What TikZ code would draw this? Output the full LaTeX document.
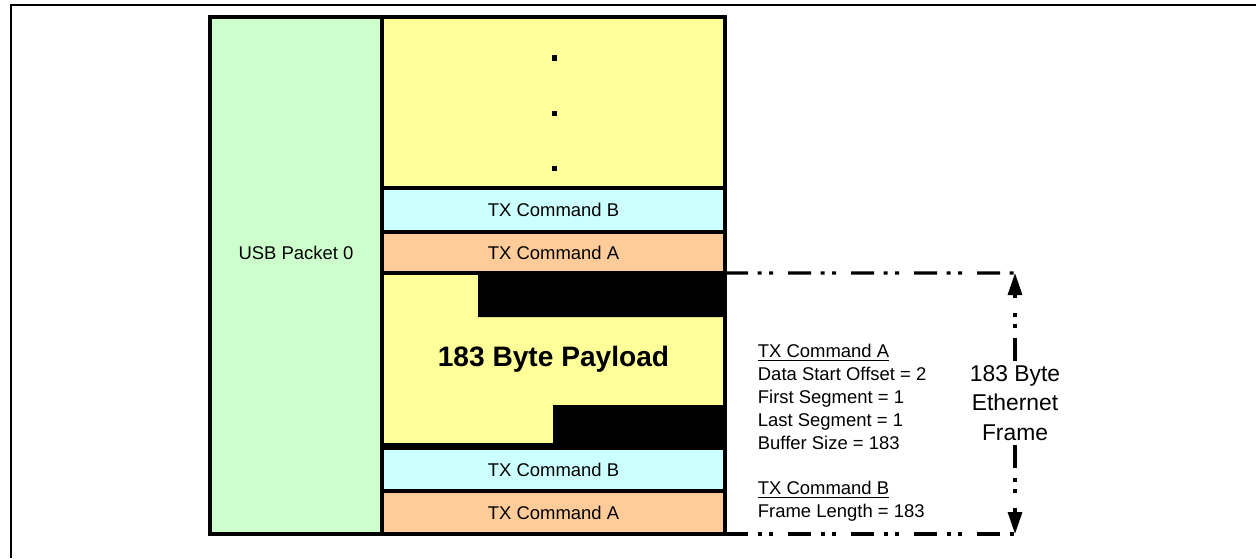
\documentclass[tikz,border=0pt]{standalone}
\usepackage{fontspec}
\setmainfont{Liberation Sans}
\usetikzlibrary{arrows.meta}
\definecolor{usbgreen}{HTML}{CCFFCC}
\definecolor{payloadyellow}{HTML}{FFFF99}
\definecolor{cmdbcyan}{HTML}{CCFFFF}
\definecolor{cmdaorange}{HTML}{FFCC99}
\tikzset{every picture/.style={font issue=\fontsize{10.5pt}{13pt}},
         font issue/.style={execute at begin picture={#1\selectfont}},
         block/.style={draw, line width=1.8pt, inner sep=0pt, outer sep=0pt, minimum width=6.86cm, anchor=south west},
         frame line/.style={line width=1.8pt, dash pattern=on 0.46cm off 0.19cm on 0.08cm off 0.15cm on 0.08cm off 0.3cm},
         frame tip/.style={-{Triangle[length=0.44cm, width=0.28cm]}}
}
\begin{document}
\begin{tikzpicture}[ultra thick]
        \useasboundingbox (0cm, 0cm) rectangle (25.12cm, 11.16cm);
        \draw [line width=1.1pt] (0.22cm, 0cm) |- (25.12cm, 11.06cm);
        \node [block, fill=usbgreen, minimum width=3.44cm, minimum height=10.34cm] (usb) at (4.2cm, 0.48cm) {};
        \node (usblabel) at (5.92cm, 6.1cm) {USB Packet 0};
        \node [block, fill=payloadyellow, minimum height=3.42cm] (more) at (7.64cm, 7.4cm) {};
        \foreach \y in {9.95, 8.85, 7.75}
          \fill (11.03cm, \y cm) rectangle +(0.1cm, 0.1cm);
        \node [block, fill=cmdbcyan, minimum height=0.88cm] (cmdbtop) at (7.64cm, 6.52cm) {TX Command B};
        \node [block, fill=cmdaorange, minimum height=0.82cm] (cmdatop) at (7.64cm, 5.7cm) {TX Command A};
        \node [block, fill=payloadyellow, minimum height=3.44cm, font=\fontsize{16pt}{19pt}\selectfont\bfseries] (payload) at (7.64cm, 2.26cm) {183 Byte Payload};
        \fill (payload.north east) rectangle (9.56cm, 4.82cm) (11.06cm, 3.06cm) rectangle (14.5cm, 2.2cm);
        \node [block, fill=cmdbcyan, minimum height=0.86cm] (cmdbbot) at (7.64cm, 1.34cm) {TX Command B};
        \node [block, fill=cmdaorange, minimum height=0.86cm] (cmdabot) at (7.64cm, 0.48cm) {TX Command A};
        \coordinate (frametop) at (20.3cm, 5.7cm);
        \coordinate (framebot) at (20.3cm, 0.48cm);
        \draw [frame line] (payload.north east) -- (frametop);
        \draw [frame line] (cmdabot.south east) -- (framebot);
        \node [fill=white, align=center, inner sep=2pt, font=\fontsize{13pt}{16.7pt}\selectfont] (framelabel) at (20.3cm, 3.1cm) {183 Byte\\Ethernet\\Frame};
        \draw [frame line, frame tip] (framelabel) -- (frametop);
        \draw [frame line, frame tip] (framelabel) -- (framebot);
        \node [anchor=north west, align=left, inner sep=0pt] (cmdnote) at (15.13cm, 4.3cm) {\underline{TX Command A}\\Data Start Offset = 2\\First Segment = 1\\Last Segment = 1\\Buffer Size = 183\\[13pt]\underline{TX Command B}\\Frame Length = 183};
      \end{tikzpicture}
\end{document}
